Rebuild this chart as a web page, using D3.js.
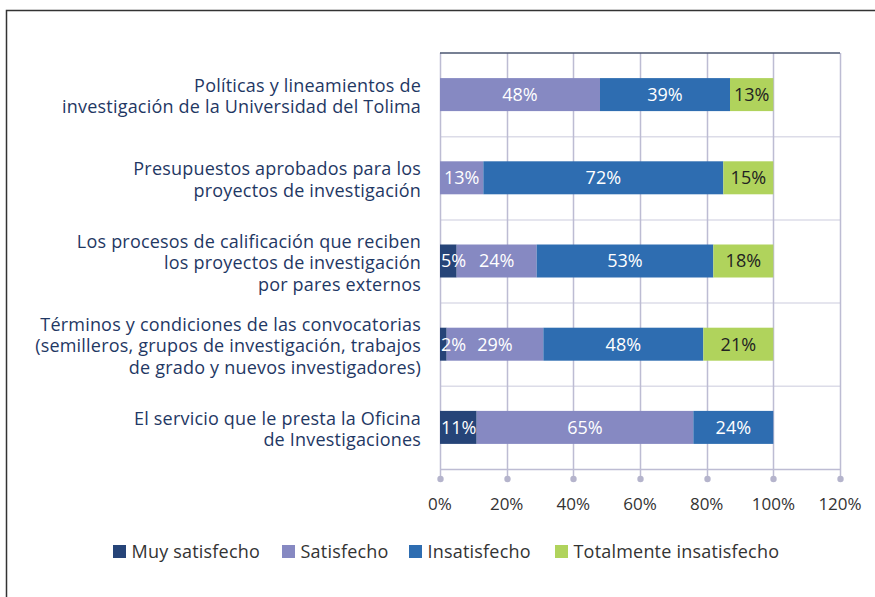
<!DOCTYPE html>
<html>
<head>
<meta charset="utf-8">
<title>Satisfacción investigación</title>
<script src="https://cdn.jsdelivr.net/npm/d3@7"></script>
<style>
  body { margin: 0; background: #fff; }
  svg text { font-family: "Open Sans", Lato, sans-serif; }
</style>
</head>
<body>
<svg id="chart" width="875" height="597"></svg>
<script>
// categorias (cada una partida en lineas)
const categorias = [
  ["Políticas y lineamientos de", "investigación de la Universidad del Tolima"],
  ["Presupuestos aprobados para los", "proyectos de investigación"],
  ["Los procesos de calificación que reciben", "los proyectos de investigación", "por pares externos"],
  ["Términos y condiciones de las convocatorias", "(semilleros, grupos de investigación, trabajos", "de grado y nuevos investigadores)"],
  ["El servicio que le presta la Oficina", "de Investigaciones"]
];
const series = ["Muy satisfecho", "Satisfecho", "Insatisfecho", "Totalmente insatisfecho"];
const muySatisfecho   = [0, 0, 5, 2, 11];
const satisfecho      = [48, 13, 24, 29, 65];
const insatisfecho    = [39, 72, 53, 48, 24];
const totalmente      = [13, 15, 18, 21, 0];
const ticks = [0, 20, 40, 60, 80, 100, 120];
const colores = ["#264478", "#8689c2", "#2e6db1", "#b0d35c"];
const colorTexto = ["#fff", "#fff", "#fff", "#222"];

const svg = d3.select("#chart");

// marco exterior
svg.append("path")
  .attr("d", "M6.5,597 V10.5 H875")
  .attr("fill", "none").attr("stroke", "#333").attr("stroke-width", 1.5);

const mIzq = 440, mDer = 840, mSup = 53, mInf = 469;

const x = d3.scaleLinear().domain([0, 120]).range([mIzq, mDer]);
const y = d3.scaleBand().domain(d3.range(categorias.length)).range([mSup, mInf]).paddingInner(0).paddingOuter(0);

const datos = categorias.map((c, i) => ({
  i: i,
  "Muy satisfecho": muySatisfecho[i],
  "Satisfecho": satisfecho[i],
  "Insatisfecho": insatisfecho[i],
  "Totalmente insatisfecho": totalmente[i]
}));
const stack = d3.stack().keys(series)(datos);

// lineas horizontales entre categorias
svg.append("g").selectAll("line")
  .data(d3.range(1, categorias.length))
  .join("line")
  .attr("x1", mIzq).attr("x2", mDer)
  .attr("y1", i => y(i) + 0.5).attr("y2", i => y(i) + 0.5)
  .attr("stroke", "#dcdce8").attr("stroke-width", 1.5);

// lineas verticales de la cuadricula
svg.append("g").selectAll("line")
  .data(ticks)
  .join("line")
  .attr("x1", d => Math.round(x(d)) + 0.5).attr("x2", d => Math.round(x(d)) + 0.5)
  .attr("y1", mSup).attr("y2", mInf + 10)
  .attr("stroke", "#bdbcd3").attr("stroke-width", 1.5);

// eje inferior
svg.append("line")
  .attr("x1", mIzq).attr("x2", mDer)
  .attr("y1", mInf + 0.5).attr("y2", mInf + 0.5)
  .attr("stroke", "#bdbcd3").attr("stroke-width", 1.5);

svg.append("g").selectAll("circle")
  .data(ticks)
  .join("circle")
  .attr("cx", d => Math.round(x(d)) + 0.5)
  .attr("cy", mInf + 10)
  .attr("r", 3.2)
  .attr("fill", "#b5b4cc");

svg.append("g").selectAll("text")
  .data(ticks)
  .join("text")
  .attr("x", d => x(d))
  .attr("y", mInf + 41)
  .attr("text-anchor", "middle")
  .attr("font-size", 17)
  .attr("fill", "#333")
  .text(d => d + "%");

// borde superior
svg.append("line")
  .attr("x1", mIzq).attr("x2", mDer)
  .attr("y1", mSup).attr("y2", mSup)
  .attr("stroke", "#4a5670").attr("stroke-width", 1.5);

// barras
const barH = 33;
const grupos = svg.append("g").selectAll("g")
  .data(stack)
  .join("g")
  .attr("fill", (d, k) => colores[k]);

grupos.selectAll("rect")
  .data(d => d.filter(s => s[1] - s[0] > 0))
  .join("rect")
  .attr("x", s => x(s[0]))
  .attr("width", s => x(s[1]) - x(s[0]))
  .attr("y", s => y(s.data.i) + y.bandwidth() / 2 - barH / 2)
  .attr("height", barH);

// etiquetas de valores
stack.forEach((serie, k) => {
  svg.append("g").selectAll("text")
    .data(serie.filter(s => s[1] - s[0] > 0))
    .join("text")
    .attr("y", s => y(s.data.i) + y.bandwidth() / 2)
    .attr("dy", "0.36em")
    .attr("text-anchor", "middle")
    .attr("font-size", 18)
    .attr("fill", colorTexto[k])
    .text(s => (s[1] - s[0]) + "%")
    .attr("x", function (s) {
      const w = this.getComputedTextLength();
      return Math.max((x(s[0]) + x(s[1])) / 2, mIzq + w / 2 + 1);
    });
});

// etiquetas de categorias
const lh = 21.5;
svg.append("g").selectAll("text")
  .data(categorias)
  .join("text")
  .attr("text-anchor", "end")
  .attr("font-size", 18)
  .attr("letter-spacing", 0.2)
  .attr("fill", "#1f3864")
  .each(function (lineas, i) {
    const cy = y(i) + y.bandwidth() / 2;
    d3.select(this).selectAll("tspan")
      .data(lineas)
      .join("tspan")
      .attr("x", 421)
      .attr("y", (l, j) => cy + (j - (lineas.length - 1) / 2) * lh)
      .attr("dy", "0.45em")
      .text(l => l);
  });

// leyenda
const legX = [113, 282, 409, 555];
const leyenda = svg.append("g").selectAll("g")
  .data(series)
  .join("g")
  .attr("transform", (d, k) => `translate(${legX[k]},551.5)`);
leyenda.append("rect")
  .attr("x", 0).attr("y", -6.5)
  .attr("width", 13).attr("height", 13)
  .attr("fill", (d, k) => colores[k]);
leyenda.append("text")
  .attr("x", 18.5).attr("dy", "0.36em")
  .attr("font-size", 18)
  .attr("letter-spacing", 0.2)
  .attr("fill", "#333")
  .text(d => d);
</script>
</body>
</html>
